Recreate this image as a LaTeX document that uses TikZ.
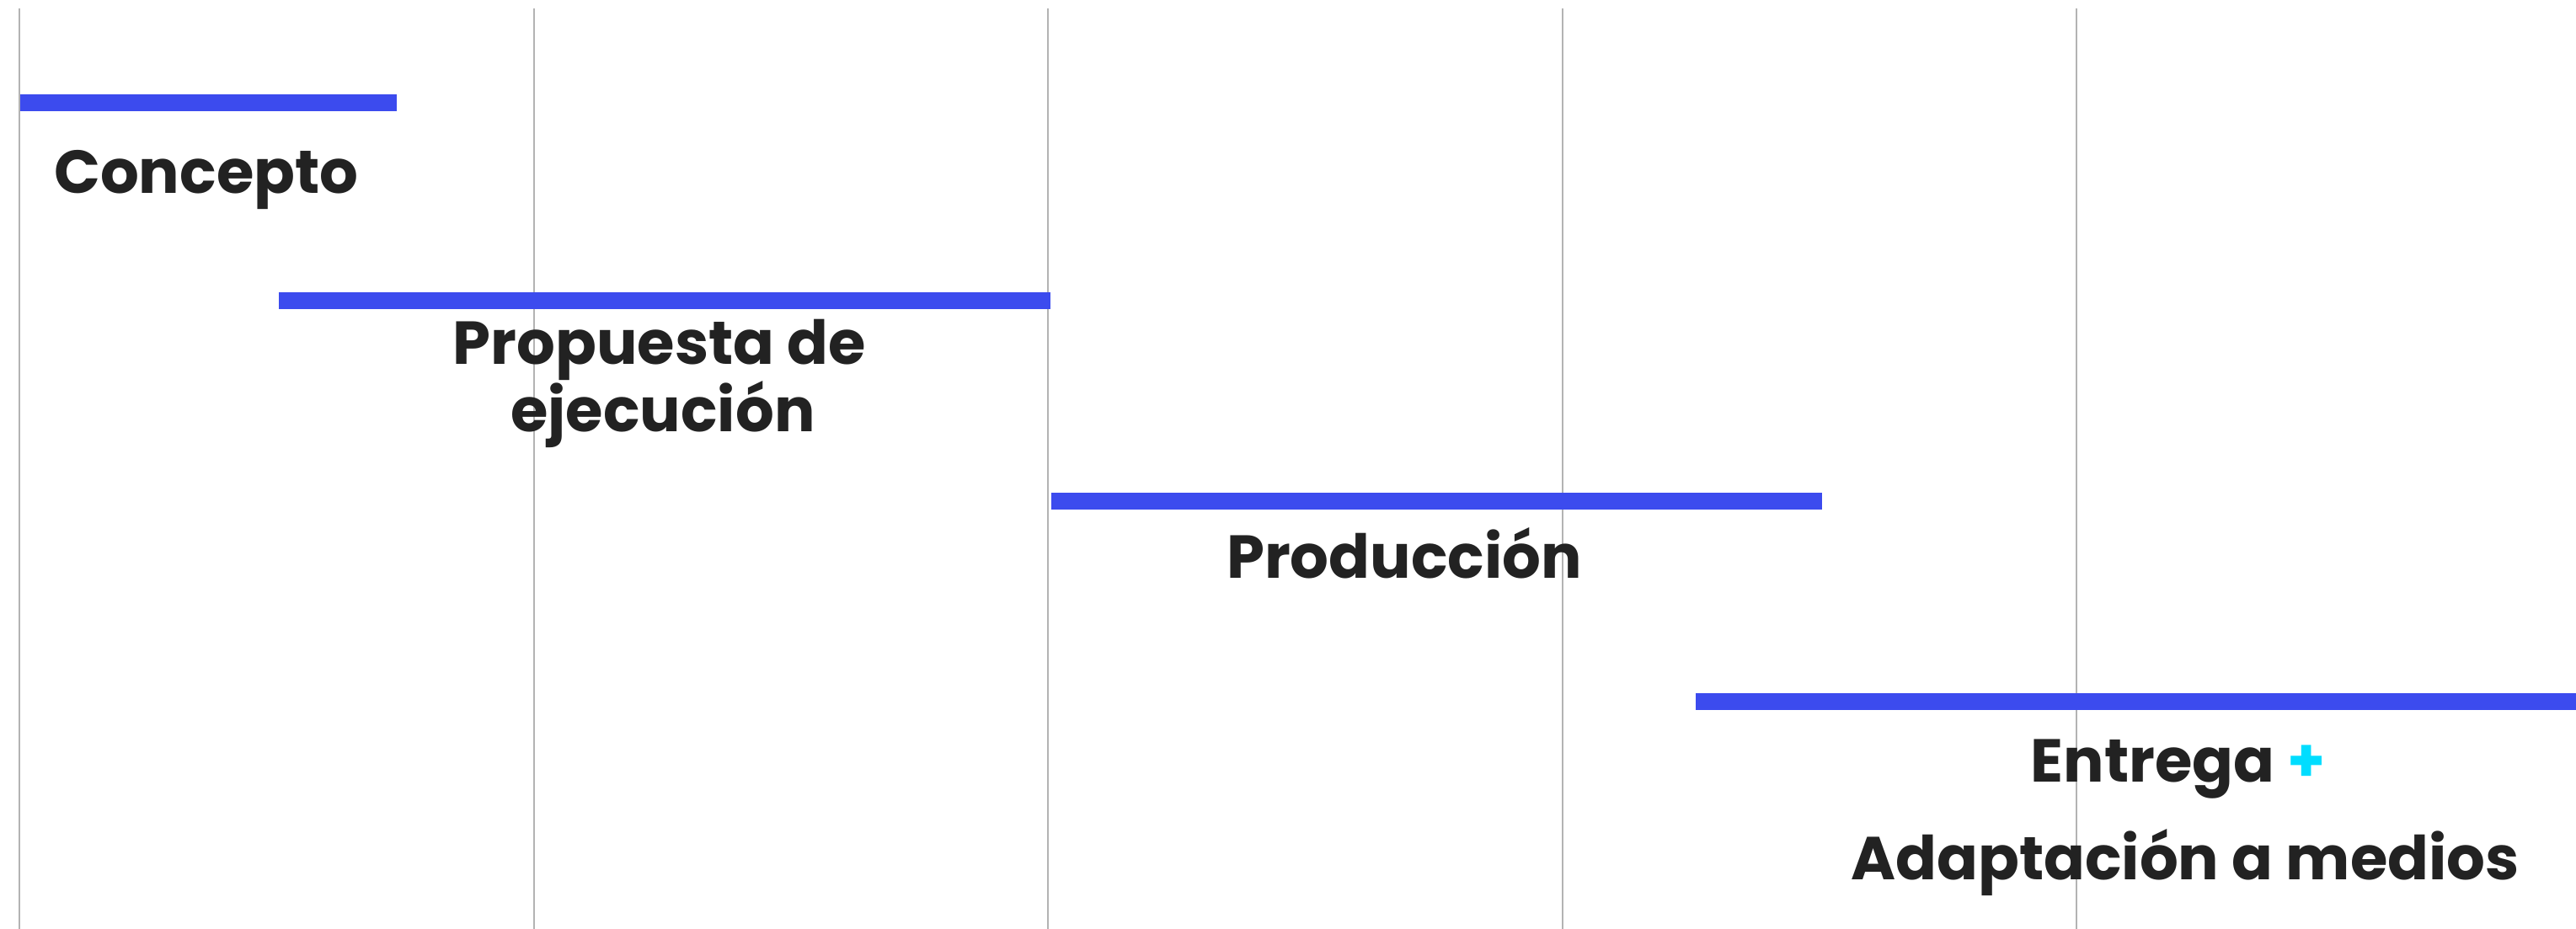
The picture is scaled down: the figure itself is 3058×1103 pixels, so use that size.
\documentclass[tikz,border=0pt]{standalone}
\usepackage{fontspec}
\setmainfont{Poppins}[BoldFont={* Bold}]
\definecolor{barblue}{HTML}{3C4BEE}
\definecolor{txtdark}{HTML}{222222}
\definecolor{plusc}{HTML}{00DDFF}
\definecolor{gridg}{HTML}{B3B3B3}
\tikzset{
  gridline/.style={draw=gridg, line width=2pt},
  barrect/.style={fill=barblue},
  lbl/.style={inner sep=0pt, text=txtdark, font=\fontsize{72}{80}\selectfont\bfseries},
}
\begin{document}
\begin{tikzpicture}[x=1pt,y=-1pt]
\useasboundingbox[fill=white] (0,0) rectangle (3058,1103);
% grid lines
\foreach \gx in {23,634,1244,1855,2465}{
  \draw[gridline] (\gx,10) -- (\gx,1103);
}
% bars
\fill[barrect] (24,112) rectangle (471,132);
\fill[barrect] (331,347) rectangle (1247,367);
\fill[barrect] (1248,585) rectangle (2163,605);
\fill[barrect] (2013,823) rectangle (3058,843);
% labels
\node[lbl, anchor=base west] (concepto) at (64,229) {Concepto};
\node[lbl, anchor=base] (prop1) at (783,432) {Propuesta de};
\node[lbl, anchor=base] (prop2) at (787,512) {ejecución};
\node[lbl, anchor=base] (produccion) at (1667,686) {Producción};
\node[lbl, anchor=base] (entrega) at (2586,928) {Entrega {\color{plusc}+}};
\node[lbl, anchor=base] (adaptacion) at (2594,1044) {Adaptación a medios};
\end{tikzpicture}
\end{document}
